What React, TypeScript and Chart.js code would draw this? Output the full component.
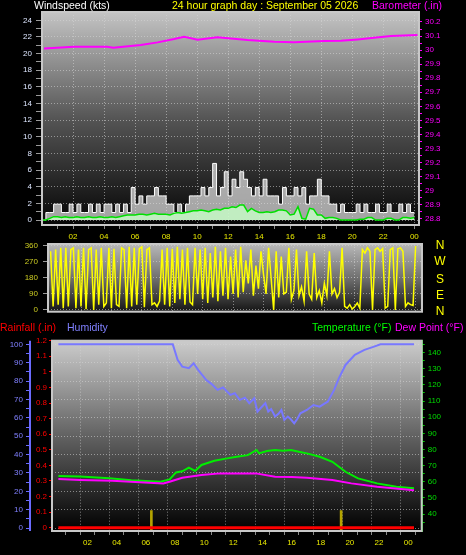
import React, { useEffect, useRef } from "react";
import { Chart, registerables } from "chart.js";

Chart.register(...registerables);

const FONT = "'Liberation Sans', Arial, sans-serif";

// ---------------- texts ----------------
const chartTitle = "24 hour graph day : September 05 2026";
const windTitle = "Windspeed (kts)";
const baroTitle = "Barometer (.in)";
const rainTitle = "Rainfall (.in)";
const humTitle = "Humidity";
const tempTitle = "Temperature (°F)";
const dewTitle = "Dew Point (°F)";
const compassLabels = ["N", "W", "S", "E", "N"];

// ---------------- time axis ----------------
const hourTickValues = [1, 2, 3, 4, 5, 6, 7, 8, 9, 10, 11, 12, 13, 14, 15, 16, 17, 18, 19, 20, 21, 22, 23, 24];
const hourTickLabels = ["", "02", "", "04", "", "06", "", "08", "", "10", "", "12", "", "14", "", "16", "", "18", "", "20", "", "22", "", "00"];

// ---------------- panel 1 : wind / barometer ----------------
const windTickValues = [0, 1, 2, 3, 4, 5, 6, 7, 8, 9, 10, 11, 12, 13, 14, 15, 16, 17, 18, 19, 20, 21, 22, 23, 24];
const windTickLabels = ["0", "", "2", "", "4", "", "6", "", "8", "", "10", "", "12", "", "14", "", "16", "", "18", "", "20", "", "22", "", "24"];
const baroMajorTicks = [28.8, 28.9, 29.0, 29.1, 29.2, 29.3, 29.4, 29.5, 29.6, 29.7, 29.8, 29.9, 30.0, 30.1, 30.2];
const baroTickLabels = ["28.8", "28.9", "29", "29.1", "29.2", "29.3", "29.4", "29.5", "29.6", "29.7", "29.8", "29.9", "30", "30.1", "30.2"];

// wind gust, one value every 15 minutes from 00:00
const gustValues = [
  0, 0.9, 0.9, 1.9, 1.9, 0.9, 0.9, 1.9, 0.9, 1.9, 0.9, 0.9, 1.9, 0.9, 1.9, 0.9,
  1.9, 1.9, 0.9, 1.9, 0.9, 1.9, 0.9, 3.9, 1.9, 2.9, 1.9, 2.9, 2.9, 3.9, 2.9, 2.9,
  1.9, 1.9, 0.9, 1.9, 0.9, 1.9, 2.9, 2.9, 2.9, 3.9, 2.9, 3.9, 6.8, 2.9, 3.9, 5.8,
  2.9, 4.9, 3.9, 5.8, 4.9, 3.9, 2.9, 3.9, 2.9, 4.9, 2.9, 2.9, 2.9, 1.9, 3.9, 2.9,
  2.9, 3.9, 2.9, 3.9, 1.9, 2.9, 2.9, 4.9, 2.9, 2.9, 1.9, 1.9, 0.9, 1.9, 0.9, 0.9,
  0.9, 1.9, 0.9, 1.9, 0.9, 0.9, 1.9, 0.9, 0.9, 1.9, 0.9, 0.9, 1.9, 0.9, 1.9, 0.9,
  0.9,
];
// average wind speed, one value every 15 minutes from 00:00
const windAvgValues = [
  0, 0, 0.2, 0.4, 0.4, 0.3, 0.4, 0.3, 0.3, 0.4, 0.3, 0.3, 0.4, 0.3, 0.3, 0.4,
  0.3, 0.3, 0.4, 0.3, 0.4, 0.5, 0.6, 0.6, 0.6, 0.7, 0.7, 0.6, 0.7, 0.8, 0.7, 0.7,
  0.7, 0.6, 0.8, 0.9, 0.8, 0.9, 1.0, 1.1, 1.1, 1.2, 1.1, 1.0, 1.2, 1.3, 1.2, 1.4,
  1.4, 1.6, 1.5, 1.8, 1.8, 1.0, 1.4, 1.1, 0.9, 0.9, 1.0, 0.9, 1.0, 1.2, 1.2, 1.1,
  0.6, 0.7, 1.6, 0.2, 0.1, 1.4, 1.3, 0.6, 0.6, 0.2, 0.3, 0.3, 0.2, 0, 0, 0,
  0, 0, 0.1, 0.1, 0.3, 0.3, 0, 0, 0, 0.2, 0.2, 0, 0, 0.3, 0.3, 0.2,
  0.3,
];
const baroHours = [0.13, 2.06, 4.2, 4.6, 6.37, 7.45, 8.52, 9.16, 10.03, 11.3, 12.17, 13.25, 14.97, 16.26, 18.2, 19.27, 20.35, 21.4, 22.5, 24.2];
const baroValues = [30.012, 30.024, 30.024, 30.017, 30.036, 30.055, 30.079, 30.095, 30.074, 30.091, 30.083, 30.071, 30.059, 30.055, 30.064, 30.066, 30.076, 30.088, 30.1, 30.107];

// ---------------- panel 2 : wind direction ----------------
const dirTickValues = [0, 90, 180, 270, 360];
const dirTickLabels = ["0", "90", "180", "270", "360"];
// one value every 10 minutes from 00:00
const windDirValues = [
  330, 20, 340, 30, 350, 10,
  350, 20, 340, 350, 10, 340,
  20, 350, 5, 340, 350, 0,
  340, 30, 350, 20, 40, 350,
  10, 345, 30, 20, 350, 340,
  10, 355, 20, 350, 30, 345,
  355, 15, 340, 350, 30, 40,
  20, 50, 340, 30, 350, 20,
  345, 40, 355, 60, 340, 30,
  350, 45, 30, 350, 90, 340,
  60, 350, 40, 320, 70, 355,
  50, 330, 80, 350, 60, 300,
  90, 340, 70, 355, 100, 280,
  150, 340, 80, 250, 120, 330,
  200, 90, 350, 180, 0, 330,
  70, 300, 90, 100, 350, 60,
  110, 340, 80, 130, 50, 330,
  90, 60, 320, 70, 110, 40,
  150, 80, 330, 90, 120, 70,
  100, 350, 20, 10, 30, 5,
  20, 40, 10, 340, 320, 350,
  330, 0, 340, 350, 330, 345,
  10, 20, 340, 350, 0, 345,
  350, 330, 20, 40, 30, 25,
  360,
];

// ---------------- panel 3 : rain / humidity / temperature ----------------
const humTickValues = [0, 5, 10, 15, 20, 25, 30, 35, 40, 45, 50, 55, 60, 65, 70, 75, 80, 85, 90, 95, 100];
const humTickLabels = ["0", "", "10", "", "20", "", "30", "", "40", "", "50", "", "60", "", "70", "", "80", "", "90", "", "100"];
const rainTickValues = [0, 0.1, 0.2, 0.3, 0.4, 0.5, 0.6, 0.7, 0.8, 0.9, 1.0, 1.1, 1.2];
const rainTickLabels = ["0", "0.1", "0.2", "0.3", "0.4", "0.5", "0.6", "0.7", "0.8", "0.9", "1", "1.1", "1.2"];
const tempTickValues = [35, 40, 45, 50, 55, 60, 65, 70, 75, 80, 85, 90, 95, 100, 105, 110, 115, 120, 125, 130, 135, 140, 145];
const tempTickLabels = ["", "40", "", "50", "", "60", "", "70", "", "80", "", "90", "", "100", "", "110", "", "120", "", "130", "", "140", ""];

const humHours = [0, 7.85, 8.18, 8.5, 8.95, 9.28, 9.6, 10.15, 10.5, 10.92, 11.3, 11.8, 12.1, 12.45, 12.8, 13.1, 13.44, 13.66, 13.9, 14.2, 14.4, 14.6, 14.87, 15.1, 15.3, 15.5, 15.74, 15.95, 16.18, 16.4, 16.6, 17.05, 17.5, 17.93, 18.2, 18.48, 18.92, 19.25, 19.7, 20.34, 21, 21.66, 22.1, 24.4];
const humValues = [100, 100, 91.6, 87.9, 87, 89.7, 86, 80.6, 78.5, 75.2, 76.5, 72.5, 73.4, 69.8, 71, 68, 70.7, 63.4, 65.5, 68, 63.4, 64.8, 60.7, 62.2, 64.3, 58.9, 60.7, 59.2, 57, 59.5, 62.5, 64.3, 67, 66.1, 67.5, 68.8, 75.2, 81.6, 88.8, 94.3, 97, 98.8, 100, 100];
const tempHours = [0, 1.5, 3.5, 5, 6, 7, 7.63, 8.07, 8.5, 8.95, 9.38, 9.82, 10.7, 11.58, 12.24, 13, 13.6, 13.77, 14.3, 14.87, 15.4, 15.96, 16.5, 17.05, 17.93, 18.8, 19.7, 20.56, 21.87, 23.19, 24.4];
const tempValues = [63.6, 63.2, 62.2, 61, 60.5, 60, 61.5, 65.8, 66.5, 68.7, 66.7, 70.4, 73, 74.5, 75.5, 76.5, 79.7, 77.6, 79, 79.7, 79.2, 79.7, 78.6, 77.6, 75.5, 72.4, 66.2, 62.1, 59, 56.9, 56];
const dewHours = [0, 1.5, 3.7, 5.9, 7.2, 7.63, 8.5, 9.82, 11.1, 12.24, 13.55, 14.87, 16, 17.05, 18.8, 20.1, 21.87, 24.4];
const dewValues = [61.7, 61.1, 60.6, 59.6, 59, 60, 62.5, 64.2, 65.2, 65.2, 65.2, 63.1, 63, 62.5, 61.1, 59, 56.9, 54.8];
const rainHours = [0, 24.4];
const rainValues = [0, 0];
const rainEventHours = [6.38, 19.4];
const rainEventValues = [0.11, 0.11];

// ---------------- helpers ----------------
const GRID = "rgba(215,215,215,0.55)";

function labelFrom(values: number[], labels: string[]) {
  return (v: number) => {
    const i = values.findIndex((t) => Math.abs(t - v) < 1e-6);
    return i >= 0 ? labels[i] : "";
  };
}

function fixed(values: number[]) {
  return (scale: any) => {
    scale.ticks = values.map((v) => ({ value: v }));
  };
}

function fit(size: number) {
  return (scale: any) => {
    if (scale.isHorizontal()) scale.height = size;
    else scale.width = size;
    scale.paddingTop = 0;
    scale.paddingBottom = 0;
    scale.paddingLeft = 0;
    scale.paddingRight = 0;
  };
}

function panelPlugin(stops: [number, string][], extra?: (chart: any) => void) {
  return {
    id: "panelBg",
    beforeDraw(chart: any) {
      const { ctx, chartArea: a } = chart;
      const g = ctx.createLinearGradient(0, a.top, 0, a.bottom);
      stops.forEach(([p, c]) => g.addColorStop(p, c));
      ctx.save();
      ctx.fillStyle = g;
      ctx.fillRect(a.left, a.top, a.right - a.left, a.bottom - a.top);
      ctx.restore();
    },
    afterDraw(chart: any) {
      const { ctx, chartArea: a } = chart;
      ctx.save();
      ctx.strokeStyle = "#c8c8c8";
      ctx.lineWidth = 2;
      ctx.strokeRect(a.left, a.top, a.right - a.left, a.bottom - a.top);
      ctx.restore();
      if (extra) extra(chart);
    },
  };
}

const hourLabel = labelFrom(hourTickValues, hourTickLabels);
const evenHourGrid = (c: any) => (c.tick && hourLabel(c.tick.value) !== "" ? GRID : "transparent");

function timeAxis(min: number, max: number, height: number, showLabels: boolean) {
  return {
    type: "linear",
    min,
    max,
    afterBuildTicks: fixed(hourTickValues),
    afterFit: fit(height),
    ticks: {
      display: showLabels,
      autoSkip: false,
      maxRotation: 0,
      padding: 3,
      color: "#e8e800",
      font: { family: FONT, size: 8 },
      callback: (v: number) => hourLabel(v),
    },
    grid: {
      color: evenHourGrid,
      tickColor: "#888888",
      tickLength: showLabels ? 4 : 0,
      drawTicks: showLabels,
    },
    border: { display: false, dash: [1, 2] },
  };
}

const series = (xs: number[], ys: number[]) => xs.map((x, i) => ({ x, y: ys[i] }));

// ---------------- chart configs ----------------
function windConfig(): any {
  const windLabel = labelFrom(windTickValues, windTickLabels);
  const baroTickValues: number[] = [];
  baroMajorTicks.forEach((v, i) => {
    baroTickValues.push(v);
    if (i < baroMajorTicks.length - 1) baroTickValues.push(Math.round((v + 0.05) * 100) / 100);
  });
  const baroLabel = labelFrom(baroMajorTicks, baroTickLabels);
  return {
    type: "line",
    data: {
      datasets: [
        {
          label: "Barometer",
          data: series(baroHours, baroValues),
          yAxisID: "baro",
          borderColor: "#ff00ff",
          borderWidth: 2,
          pointRadius: 0,
        },
        {
          label: "Wind speed",
          data: windAvgValues.map((v, i) => ({ x: i * 0.25, y: v })),
          yAxisID: "wind",
          borderColor: "#00e000",
          borderWidth: 1.5,
          backgroundColor: "rgba(200,255,200,0.8)",
          fill: "origin",
          pointRadius: 0,
        },
        {
          label: "Wind gust",
          data: gustValues.map((v, i) => ({ x: i * 0.25, y: v })),
          yAxisID: "wind",
          stepped: true,
          borderColor: "#ffffff",
          borderWidth: 1,
          backgroundColor: "rgba(225,225,225,0.72)",
          fill: "origin",
          pointRadius: 0,
        },
      ],
    },
    options: {
      responsive: false,
      animation: false,
      devicePixelRatio: 1,
      events: [],
      layout: { padding: { top: 12, left: 0, right: 0, bottom: 0 }, autoPadding: false },
      plugins: { legend: { display: false }, tooltip: { enabled: false } },
      scales: {
        x: timeAxis(0, 24.3, 18, true),
        wind: {
          type: "linear",
          position: "left",
          min: -0.6,
          max: 25,
          afterBuildTicks: fixed(windTickValues),
          afterFit: fit(42),
          ticks: {
            autoSkip: false,
            padding: 4,
            color: "#dde6ff",
            font: { family: FONT, size: 8 },
            callback: (v: number) => windLabel(v),
          },
          grid: {
            color: (c: any) => (c.tick && windLabel(c.tick.value) !== "" ? GRID : "transparent"),
            tickColor: "#9a9a9a",
            tickLength: 6,
          },
          border: { display: false, dash: [1, 2] },
        },
        baro: {
          type: "linear",
          position: "right",
          min: 28.756,
          max: 30.271,
          afterBuildTicks: fixed(baroTickValues),
          afterFit: fit(47),
          ticks: {
            autoSkip: false,
            padding: 3,
            color: "#ff00ff",
            font: { family: FONT, size: 8 },
            callback: (v: number) => baroLabel(v),
          },
          grid: { drawOnChartArea: false, tickColor: "#ff00ff", tickLength: 3 },
          border: { display: false },
        },
      },
    },
    plugins: [panelPlugin([[0, "#c4c4c4"], [0.5, "#555555"], [1, "#050505"]])],
  };
}

function dirConfig(): any {
  const dirLabel = labelFrom(dirTickValues, dirTickLabels);
  return {
    type: "line",
    data: {
      datasets: [
        {
          label: "Wind direction",
          data: windDirValues.map((v, i) => ({ x: i / 6, y: v })),
          yAxisID: "y",
          borderColor: "#ffff00",
          borderWidth: 1.5,
          pointRadius: 0,
        },
      ],
    },
    options: {
      responsive: false,
      animation: false,
      devicePixelRatio: 1,
      events: [],
      layout: { padding: { top: 1, left: 0, right: 44, bottom: 6.3 }, autoPadding: false },
      plugins: { legend: { display: false }, tooltip: { enabled: false } },
      scales: {
        x: timeAxis(-0.17, 24.42, 0, false),
        y: {
          type: "linear",
          position: "left",
          min: -9.6,
          max: 371.25,
          afterBuildTicks: fixed(dirTickValues),
          afterFit: fit(48),
          ticks: {
            autoSkip: false,
            padding: 5,
            color: "#cccc22",
            font: { family: FONT, size: 8 },
            callback: (v: number) => dirLabel(v),
          },
          grid: { color: GRID, tickColor: "#9a9a9a", tickLength: 5 },
          border: { display: false, dash: [1, 2] },
        },
      },
    },
    plugins: [panelPlugin([[0, "#b8b8b8"], [0.5, "#707070"], [1, "#151515"]])],
  };
}

function climateConfig(): any {
  const humLabel = labelFrom(humTickValues, humTickLabels);
  const rainLabel = labelFrom(rainTickValues, rainTickLabels);
  const tempLabel = labelFrom(tempTickValues, tempTickLabels);
  return {
    type: "line",
    data: {
      datasets: [
        {
          label: "Rainfall",
          data: series(rainHours, rainValues),
          yAxisID: "rain",
          borderColor: "#ff0000",
          borderWidth: 3,
          pointRadius: 0,
        },
        {
          label: "Dew Point",
          data: series(dewHours, dewValues),
          yAxisID: "temp",
          borderColor: "#ff00ff",
          borderWidth: 2,
          pointRadius: 0,
        },
        {
          label: "Temperature",
          data: series(tempHours, tempValues),
          yAxisID: "temp",
          borderColor: "#00ee00",
          borderWidth: 2,
          pointRadius: 0,
        },
        {
          label: "Humidity",
          data: series(humHours, humValues),
          yAxisID: "hum",
          borderColor: "#7878ff",
          borderWidth: 2,
          pointRadius: 0,
        },
        {
          type: "bar",
          label: "Rain event",
          data: series(rainEventHours, rainEventValues),
          yAxisID: "rain",
          backgroundColor: "#b4a400",
          barThickness: 2,
          grouped: false,
          base: -0.03,
        },
      ],
    },
    options: {
      responsive: false,
      animation: false,
      devicePixelRatio: 1,
      events: [],
      layout: { padding: { top: 22.7, left: 0, right: 0, bottom: 0 }, autoPadding: false },
      plugins: { legend: { display: false }, tooltip: { enabled: false } },
      scales: {
        x: timeAxis(0.09, 24.4, 24, true),
        hum: {
          type: "linear",
          position: "left",
          weight: 2,
          min: -1.6,
          max: 102,
          afterBuildTicks: fixed(humTickValues),
          afterFit: fit(31),
          ticks: {
            autoSkip: false,
            padding: 3,
            color: "#8080ff",
            font: { family: FONT, size: 8 },
            callback: (v: number) => humLabel(v),
          },
          grid: {
            color: (c: any) => (c.tick && humLabel(c.tick.value) !== "" ? GRID : "transparent"),
            tickColor: "#6b6bff",
            tickLength: 5,
          },
          border: { display: false, dash: [1, 2] },
        },
        rain: {
          type: "linear",
          position: "left",
          weight: 1,
          min: -0.021,
          max: 1.2,
          afterBuildTicks: fixed(rainTickValues),
          afterFit: fit(21),
          ticks: {
            autoSkip: false,
            padding: 2,
            color: "#ff0000",
            font: { family: FONT, size: 8 },
            callback: (v: number) => rainLabel(v),
          },
          grid: { drawOnChartArea: false, tickColor: "#ff0000", tickLength: 3 },
          border: { display: true, color: "#ff2020", width: 2, dash: [2, 2] },
        },
        temp: {
          type: "linear",
          position: "right",
          min: 29.5,
          max: 147.4,
          afterBuildTicks: fixed(tempTickValues),
          afterFit: fit(44.3),
          ticks: {
            autoSkip: false,
            padding: 3,
            color: "#00dd00",
            font: { family: FONT, size: 8 },
            callback: (v: number) => tempLabel(v),
          },
          grid: { drawOnChartArea: false, tickColor: "#00cc00", tickLength: 3 },
          border: { display: true, color: "#00cc00", width: 2, dash: [1, 2] },
        },
      },
    },
    plugins: [
      panelPlugin([[0, "#cccccc"], [0.5, "#626262"], [1, "#000000"]], (chart: any) => {
        const { ctx, chartArea: a } = chart;
        const hum = chart.scales.hum;
        ctx.save();
        ctx.strokeStyle = "#6b6bff";
        ctx.lineWidth = 2;
        ctx.beginPath();
        ctx.moveTo(hum.right - 1, a.top);
        ctx.lineTo(hum.right - 1, a.bottom);
        ctx.stroke();
        ctx.restore();
      }),
    ],
  };
}

// ---------------- components ----------------
function ChartCanvas({ top, height, make }: { top: number; height: number; make: () => any }) {
  const ref = useRef<HTMLCanvasElement | null>(null);
  useEffect(() => {
    if (!ref.current) return;
    const chart = new Chart(ref.current, make());
    return () => chart.destroy();
  }, []);
  return (
    <canvas
      ref={ref}
      width={466}
      height={height}
      style={{ position: "absolute", left: 0, top, width: 466, height, display: "block" }}
    />
  );
}

function Label({ text, left, top, color, size = 10.5, center = false }: any) {
  return (
    <div
      style={{
        position: "absolute",
        left,
        top,
        color,
        fontFamily: FONT,
        fontSize: size,
        lineHeight: `${size}px`,
        whiteSpace: "nowrap",
        transform: center ? "translate(-50%, -50%)" : undefined,
      }}
    >
      {text}
    </div>
  );
}

const compassTops = [245, 261, 278.5, 295, 310.5];

export default function App() {
  return (
    <div
      style={{
        position: "fixed",
        left: 0,
        top: 0,
        width: 466,
        height: 555,
        background: "#000000",
        overflow: "hidden",
      }}
    >
      <ChartCanvas top={0} height={243} make={windConfig} />
      <ChartCanvas top={243} height={75} make={dirConfig} />
      <ChartCanvas top={318} height={237} make={climateConfig} />
      <Label text={windTitle} left={34} top={0} color="#ffffff" />
      <Label text={chartTitle} left={172} top={0} color="#ffff00" />
      <Label text={baroTitle} left={372} top={0} color="#ff00ff" />
      <Label text={rainTitle} left={0} top={321.5} color="#ff0000" />
      <Label text={humTitle} left={67} top={321.5} color="#8080ff" />
      <Label text={tempTitle} left={312} top={321.5} color="#00ff00" />
      <Label text={dewTitle} left={395} top={321.5} color="#ff00ff" />
      {compassLabels.map((t, i) => (
        <Label key={i} text={t} left={440} top={compassTops[i]} color="#ffff00" size={12} center />
      ))}
    </div>
  );
}
